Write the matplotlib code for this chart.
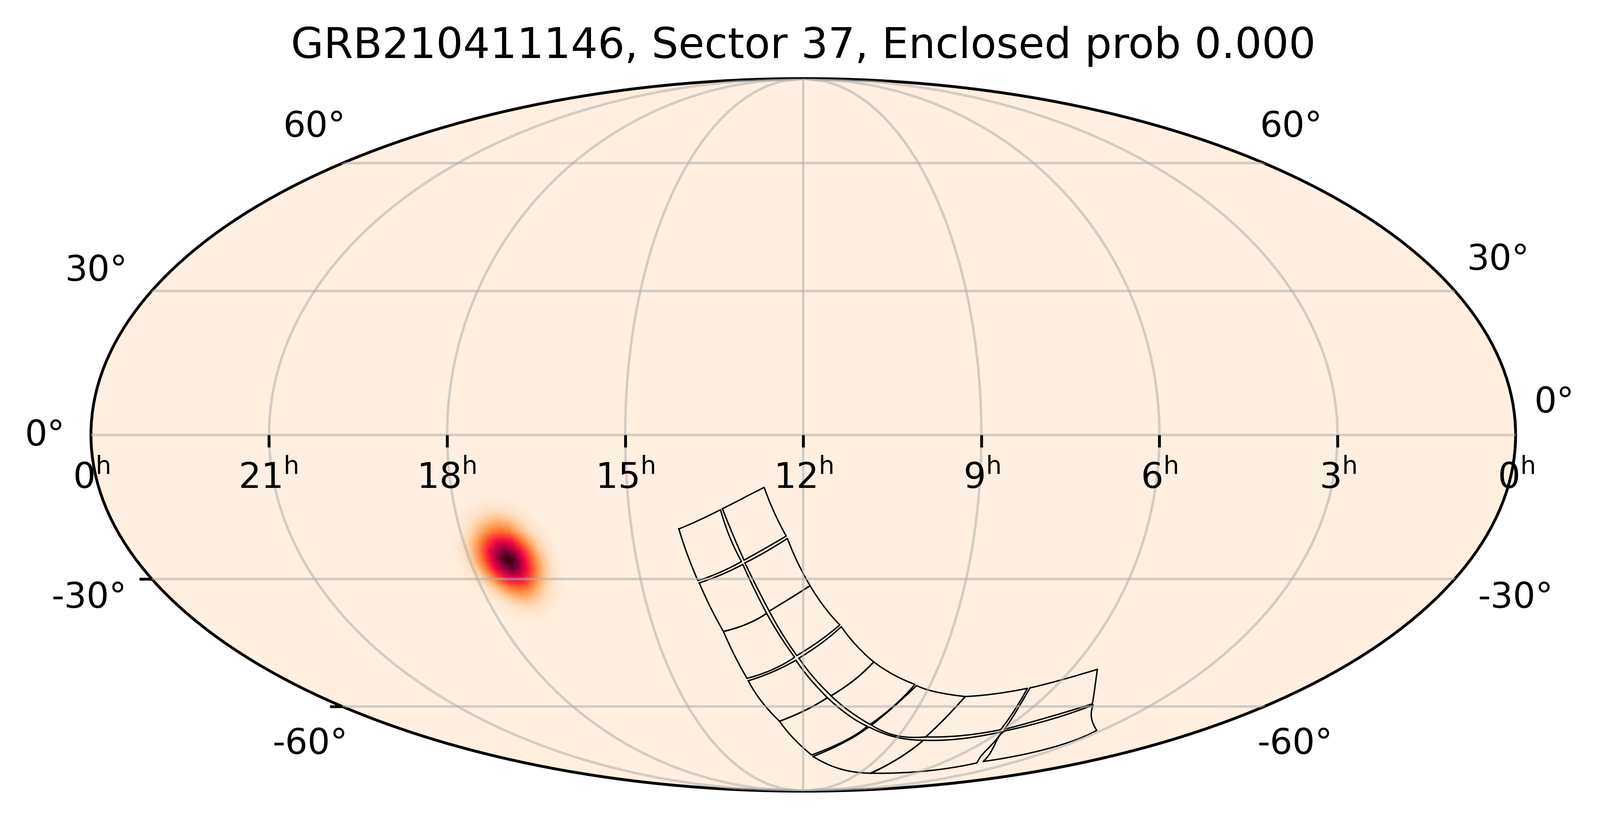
import numpy as np
import matplotlib
matplotlib.use('Agg')
import matplotlib.pyplot as plt
from matplotlib.colors import LinearSegmentedColormap
from matplotlib.markers import TICKDOWN, TICKLEFT

# ---- data (degrees) ----
CCD_RA = [[212.6, 207.2, 201.4, 199.4, 196.7, 202.8, 209.2, 211.1, 212.6], [200.9, 195.4, 190.0, 187.5, 184.5, 190.2, 196.0, 198.3, 200.9], [208.9, 202.5, 196.4, 193.7, 190.7, 196.8, 204.2, 206.7, 208.9], [195.8, 189.8, 184.2, 181.4, 178.1, 183.6, 189.9, 193.0, 195.8], [204.2, 196.8, 190.7, 187.0, 182.8, 190.5, 199.5, 202.1, 204.2], [189.9, 183.6, 178.1, 173.9, 169.1, 175.2, 182.1, 186.3, 189.9], [199.2, 190.3, 182.4, 177.6, 171.0, 179.5, 190.1, 195.7, 199.2], [181.4, 174.5, 168.6, 163.3, 156.9, 162.4, 169.7, 176.4, 181.4], [190.1, 179.5, 171.0, 161.6, 151.9, 160.4, 175.2, 183.9, 190.1], [169.7, 162.4, 156.9, 149.2, 140.5, 144.7, 151.0, 161.4, 169.7], [174.3, 160.2, 151.1, 136.4, 121.1, 122.5, 125.9, 153.6, 174.3], [150.2, 144.6, 139.7, 131.7, 119.7, 120.7, 121.7, 136.3, 150.2], [125.3, 122.5, 121.1, 104.2, 89.1, 81.3, 74.9, 67.6, 87.5, 125.3], [121.7, 120.7, 119.7, 109.5, 99.4, 95.9, 91.2, 105.1, 121.7], [88.6, 76.4, 67.7, 61.7, 54.5, 47.2, 50.1, 66.2, 82.7, 88.6], [98.6, 90.6, 81.3, 75.5, 68.6, 78.5, 89.7, 95.1, 98.6]]
CCD_DEC = [[-19.4, -17.6, -15.4, -21.1, -26.3, -28.6, -30.4, -24.8, -19.4], [-15.2, -13.0, -10.8, -16.0, -20.9, -23.5, -26.0, -21.1, -15.2], [-30.9, -29.1, -26.9, -32.3, -37.6, -40.0, -41.7, -36.5, -30.9], [-26.6, -24.1, -21.4, -26.7, -31.5, -34.2, -37.1, -31.8, -26.6], [-41.7, -40.0, -37.6, -42.9, -47.7, -50.7, -52.8, -47.3, -41.7], [-37.1, -34.2, -31.5, -36.2, -40.2, -44.0, -47.3, -42.4, -37.1], [-53.4, -51.2, -48.4, -53.0, -57.7, -61.1, -64.0, -58.9, -53.4], [-47.9, -44.5, -40.6, -45.0, -48.8, -53.3, -57.2, -52.6, -47.9], [-64.0, -61.1, -57.7, -62.3, -65.4, -70.0, -74.1, -69.5, -64.0], [-57.2, -53.3, -48.8, -51.9, -54.3, -59.8, -64.9, -61.3, -57.2], [-74.6, -70.4, -65.6, -68.5, -69.5, -75.1, -80.6, -78.9, -74.6], [-65.1, -60.0, -54.6, -56.2, -57.4, -62.3, -68.5, -68.1, -65.1], [-80.6, -75.1, -69.5, -69.1, -67.0, -72.2, -74.9, -76.8, -79.8, -80.6], [-68.5, -62.3, -57.4, -56.7, -55.3, -61.0, -66.4, -68.1, -68.5], [-66.8, -63.6, -59.6, -62.5, -64.8, -66.6, -72.4, -76.3, -70.6, -66.8], [-55.2, -53.3, -50.6, -55.1, -59.3, -62.9, -66.3, -60.8, -55.2]]
# index of the corners inside each outline, for the outlines that are not corner/mid/corner/mid
CCD_CORNERS = {12: (0, 2, 4, 7, 9), 14: (0, 2, 5, 7, 9)}

BLOB_RA = [243.8, 246.1, 248.4, 250.7, 253.0, 255.3, 257.2, 259.5, 261.8, 264.1, 266.4, 268.7, 271.0, 273.3, 275.6]
BLOB_DEC = [-40.0, -38.0, -36.0, -34.0, -32.0, -30.0, -28.0, -26.0, -24.0, -22.0, -20.0, -18.0, -16.0, -14.0, -12.0]
BLOB_QUADRANT = [[.004, .020, .065, .170, .353, .630, .891, 1.0],
                 [.004, .017, .055, .145, .315, .561, .794, .891],
                 [.003, .012, .040, .105, .222, .397, .561, .630],
                 [.002, .007, .024, .060, .125, .222, .315, .353],
                 [.001, .003, .012, .032, .068, .124, .175, .196],
                 [.001, .002, .005, .015, .032, .056, .078, .088],
                 [0, .001, .002, .004, .010, .020, .028, .032],
                 [0, 0, 0, .001, .002, .004, .006, .006]]

HOUR_LABELS = [0, 21, 18, 15, 12, 9, 6, 3, 0]
HOUR_TICKS = [21, 18, 15, 12, 9, 6, 3]
DEC_TICKS = [-30, -60]
TITLE = 'GRB210411146, Sector 37, Enclosed prob 0.000'

# ---- layout ----
W, H, DPI = 3779, 1929, 600
CX, CY, HW, HH = 1897.0, 1027.0, 1685.0, 841.0
HOUR_X = [89.5, 263, 437.5, 612.5, 787, 962, 1136, 1311, 1485.5]
DEC_LABELS = [(308, 134, '60°'), (1265, 134, '60°'), (94.5, 275, '30°'), (1468, 264, '30°'),
              (44, 436, '0°'), (1523, 404, '0°'), (87.5, 595, '-30°'), (1485, 595, '-30°'),
              (304, 738, '-60°'), (1269, 738, '-60°')]

rows = [r + r[-2::-1] for r in BLOB_QUADRANT]
blob = np.array(rows[:0:-1] + rows)

cmap = LinearSegmentedColormap.from_list('cyl', [
    (0, '#ffefe0'), (.016, '#ffeddd'), (.066, '#ffe1c3'), (.165, '#ffbe82'), (.25, '#ff9646'),
    (.39, '#ff5a1e'), (.58, '#ff0046'), (.78, '#b40050'), (.93, '#5a0028'), (1, '#280000')])


def smooth(ra, dec, corners):
    """Round each outline edge through the points read along it."""
    xs, ys = [], []
    for a, b in zip(corners[:-1], corners[1:]):
        u = np.linspace(0, 1, b - a + 1)
        t = np.linspace(0, 1, 24)
        xs.extend(np.polyval(np.polyfit(u, ra[a:b + 1], b - a), t))
        ys.extend(np.polyval(np.polyfit(u, dec[a:b + 1], b - a), t))
    return np.array(xs), np.array(ys)


fig = plt.figure(figsize=((W + .5) / DPI, (H + .5) / DPI), dpi=DPI)
ax = fig.add_axes([(CX - HW) / W, 1 - (CY + HH) / H, 2 * HW / W, 2 * HH / H], projection='mollweide')
ax.set_facecolor('#ffefe0')
ax.set_longitude_grid(45)
ax.set_latitude_grid(30)
ax.set_longitude_grid_ends(90)
ax.set_xticklabels([])
ax.set_yticklabels([])
ax.set_axisbelow(False)
ax.grid(True, color='#b0b0b0', alpha=.55, lw=.72)
for s in ax.spines.values():
    s.set_linewidth(.8)

lon, lat = np.meshgrid(np.radians(180 - np.array(BLOB_RA)), np.radians(BLOB_DEC))
ax.pcolormesh(lon, lat, blob, cmap=cmap, vmin=0, vmax=1, shading='gouraud', zorder=1)

for i, (r, d) in enumerate(zip(CCD_RA, CCD_DEC)):
    x, y = smooth(r, d, CCD_CORNERS.get(i, (0, 2, 4, 6, 8)))
    ax.plot(np.radians(180 - x), np.radians(y), color='k', lw=.4, zorder=2)

for h in HOUR_TICKS:
    ax.plot([np.radians(180 - 15 * h)], [0], marker=TICKDOWN, ms=3.5, mew=.8, color='k', clip_on=False, zorder=3)
for d in DEC_TICKS:
    ax.plot([-np.pi], [np.radians(d)], marker=TICKLEFT, ms=3.5, mew=.8, color='k', clip_on=False, zorder=3)


def label(x, y, s):
    fig.text(x / 1568, 1 - y / 800, s, ha='center', va='baseline', fontsize=10)


for x, h in zip(HOUR_X, HOUR_LABELS):
    label(x, 478, r'%d$^{\mathrm{h}}$' % h)
for x, y, s in DEC_LABELS:
    label(x, y, s)
fig.text(787 / 1568, 1 - 57 / 800, TITLE, ha='center', va='baseline', fontsize=12)
fig.savefig('out.png', dpi=DPI)
